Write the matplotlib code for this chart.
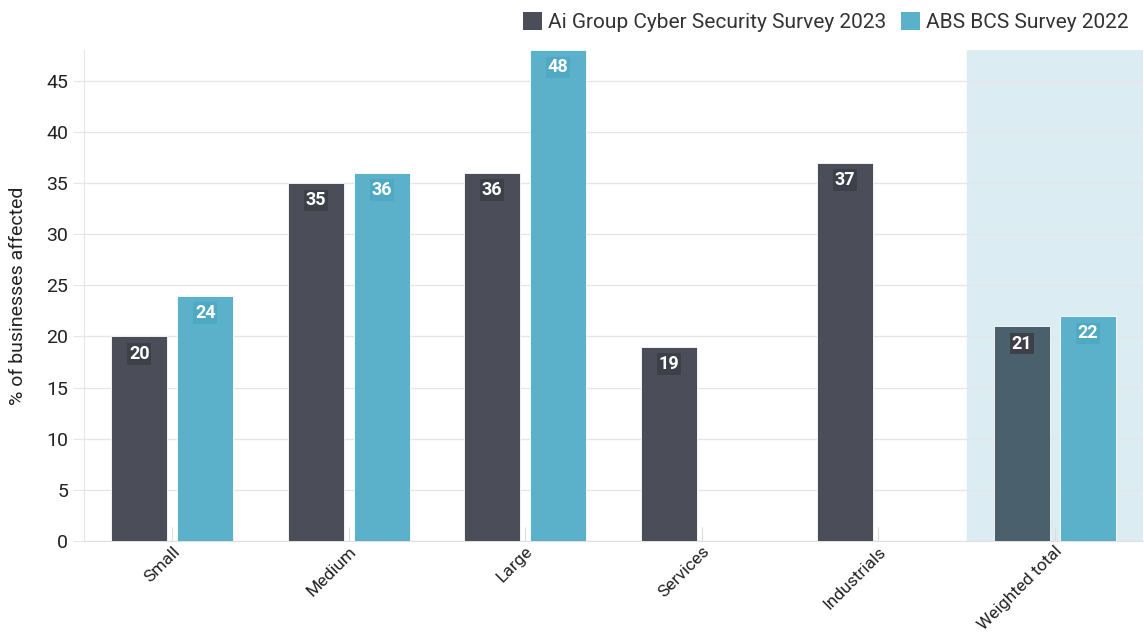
import numpy as np
import matplotlib.pyplot as plt
from matplotlib.patches import Patch

plt.rcParams['font.family'] = ['Roboto', 'DejaVu Sans']

categories = ['Small', 'Medium', 'Large', 'Services', 'Industrials', 'Weighted total']
aigroup = [20, 35, 36, 19, 37, 21]
abs_bcs = [24, 36, 48, None, None, 22]

dark = '#4b4e58'
dark_on_band = '#4b606d'
teal = '#5ab1c9'

fig = plt.figure(figsize=(11.44, 6.41), dpi=100)
ax = fig.add_axes([84 / 1144, 100 / 641, 1059 / 1144, 491 / 641])

x = np.arange(len(categories))
w = 0.317
off = 0.187

# highlight band for the total
ax.axvspan(x[-1] - 0.5, x[-1] + 0.5, color='#dbedf3', zorder=0)

def label(ax, xpos, v, col):
    ax.text(xpos, v - 1.7, str(v), ha='center', va='center', color='white',
            fontsize=13, fontweight='bold', zorder=5,
            bbox=dict(boxstyle='square,pad=0.1', fc=col, ec='none'))

for i, v in enumerate(aigroup):
    col = dark_on_band if i == len(categories) - 1 else dark
    ax.bar(x[i] - off, v, w, color=col, edgecolor='white', linewidth=0.6, zorder=3)
    label(ax, x[i] - off, v, '#3e4049')
for i, v in enumerate(abs_bcs):
    if v is None:
        continue
    ax.bar(x[i] + off, v, w, color=teal, edgecolor='white', linewidth=0.6, zorder=3)
    label(ax, x[i] + off, v, '#4fa9c2')

ax.set_xlim(-0.5, len(categories) - 0.5)
ax.set_ylim(0, 48)
ax.set_yticks(range(0, 50, 5))
ax.set_xticks(x)
ax.set_xticklabels(categories, rotation=45, ha='right', rotation_mode='anchor', fontsize=12.5, color='#222222')
ax.tick_params(axis='y', labelsize=14, labelcolor='#222222', length=8, color='#e6e6e6')
ax.tick_params(axis='x', direction='in', length=10, color='#dddddd', pad=2)
ax.grid(axis='y', color='#e6e6e6', linewidth=1, zorder=1)
for s in ['top', 'right']:
    ax.spines[s].set_visible(False)
ax.spines['left'].set_color('#e6e6e6')
ax.spines['bottom'].set_color('#e0e0e0')
ax.set_ylabel('% of businesses affected', fontsize=14, color='#222222', labelpad=14)

handles = [Patch(facecolor=dark, label='Ai Group Cyber Security Survey 2023'),
           Patch(facecolor=teal, label='ABS BCS Survey 2022')]
fig.legend(handles=handles, loc='upper right', bbox_to_anchor=(1.003, 1.01), ncol=2,
           frameon=False, fontsize=15, handlelength=0.9, handleheight=0.9,
           handletextpad=0.3, columnspacing=0.7, labelcolor='#333333')

fig.savefig('out.png', dpi=100)
